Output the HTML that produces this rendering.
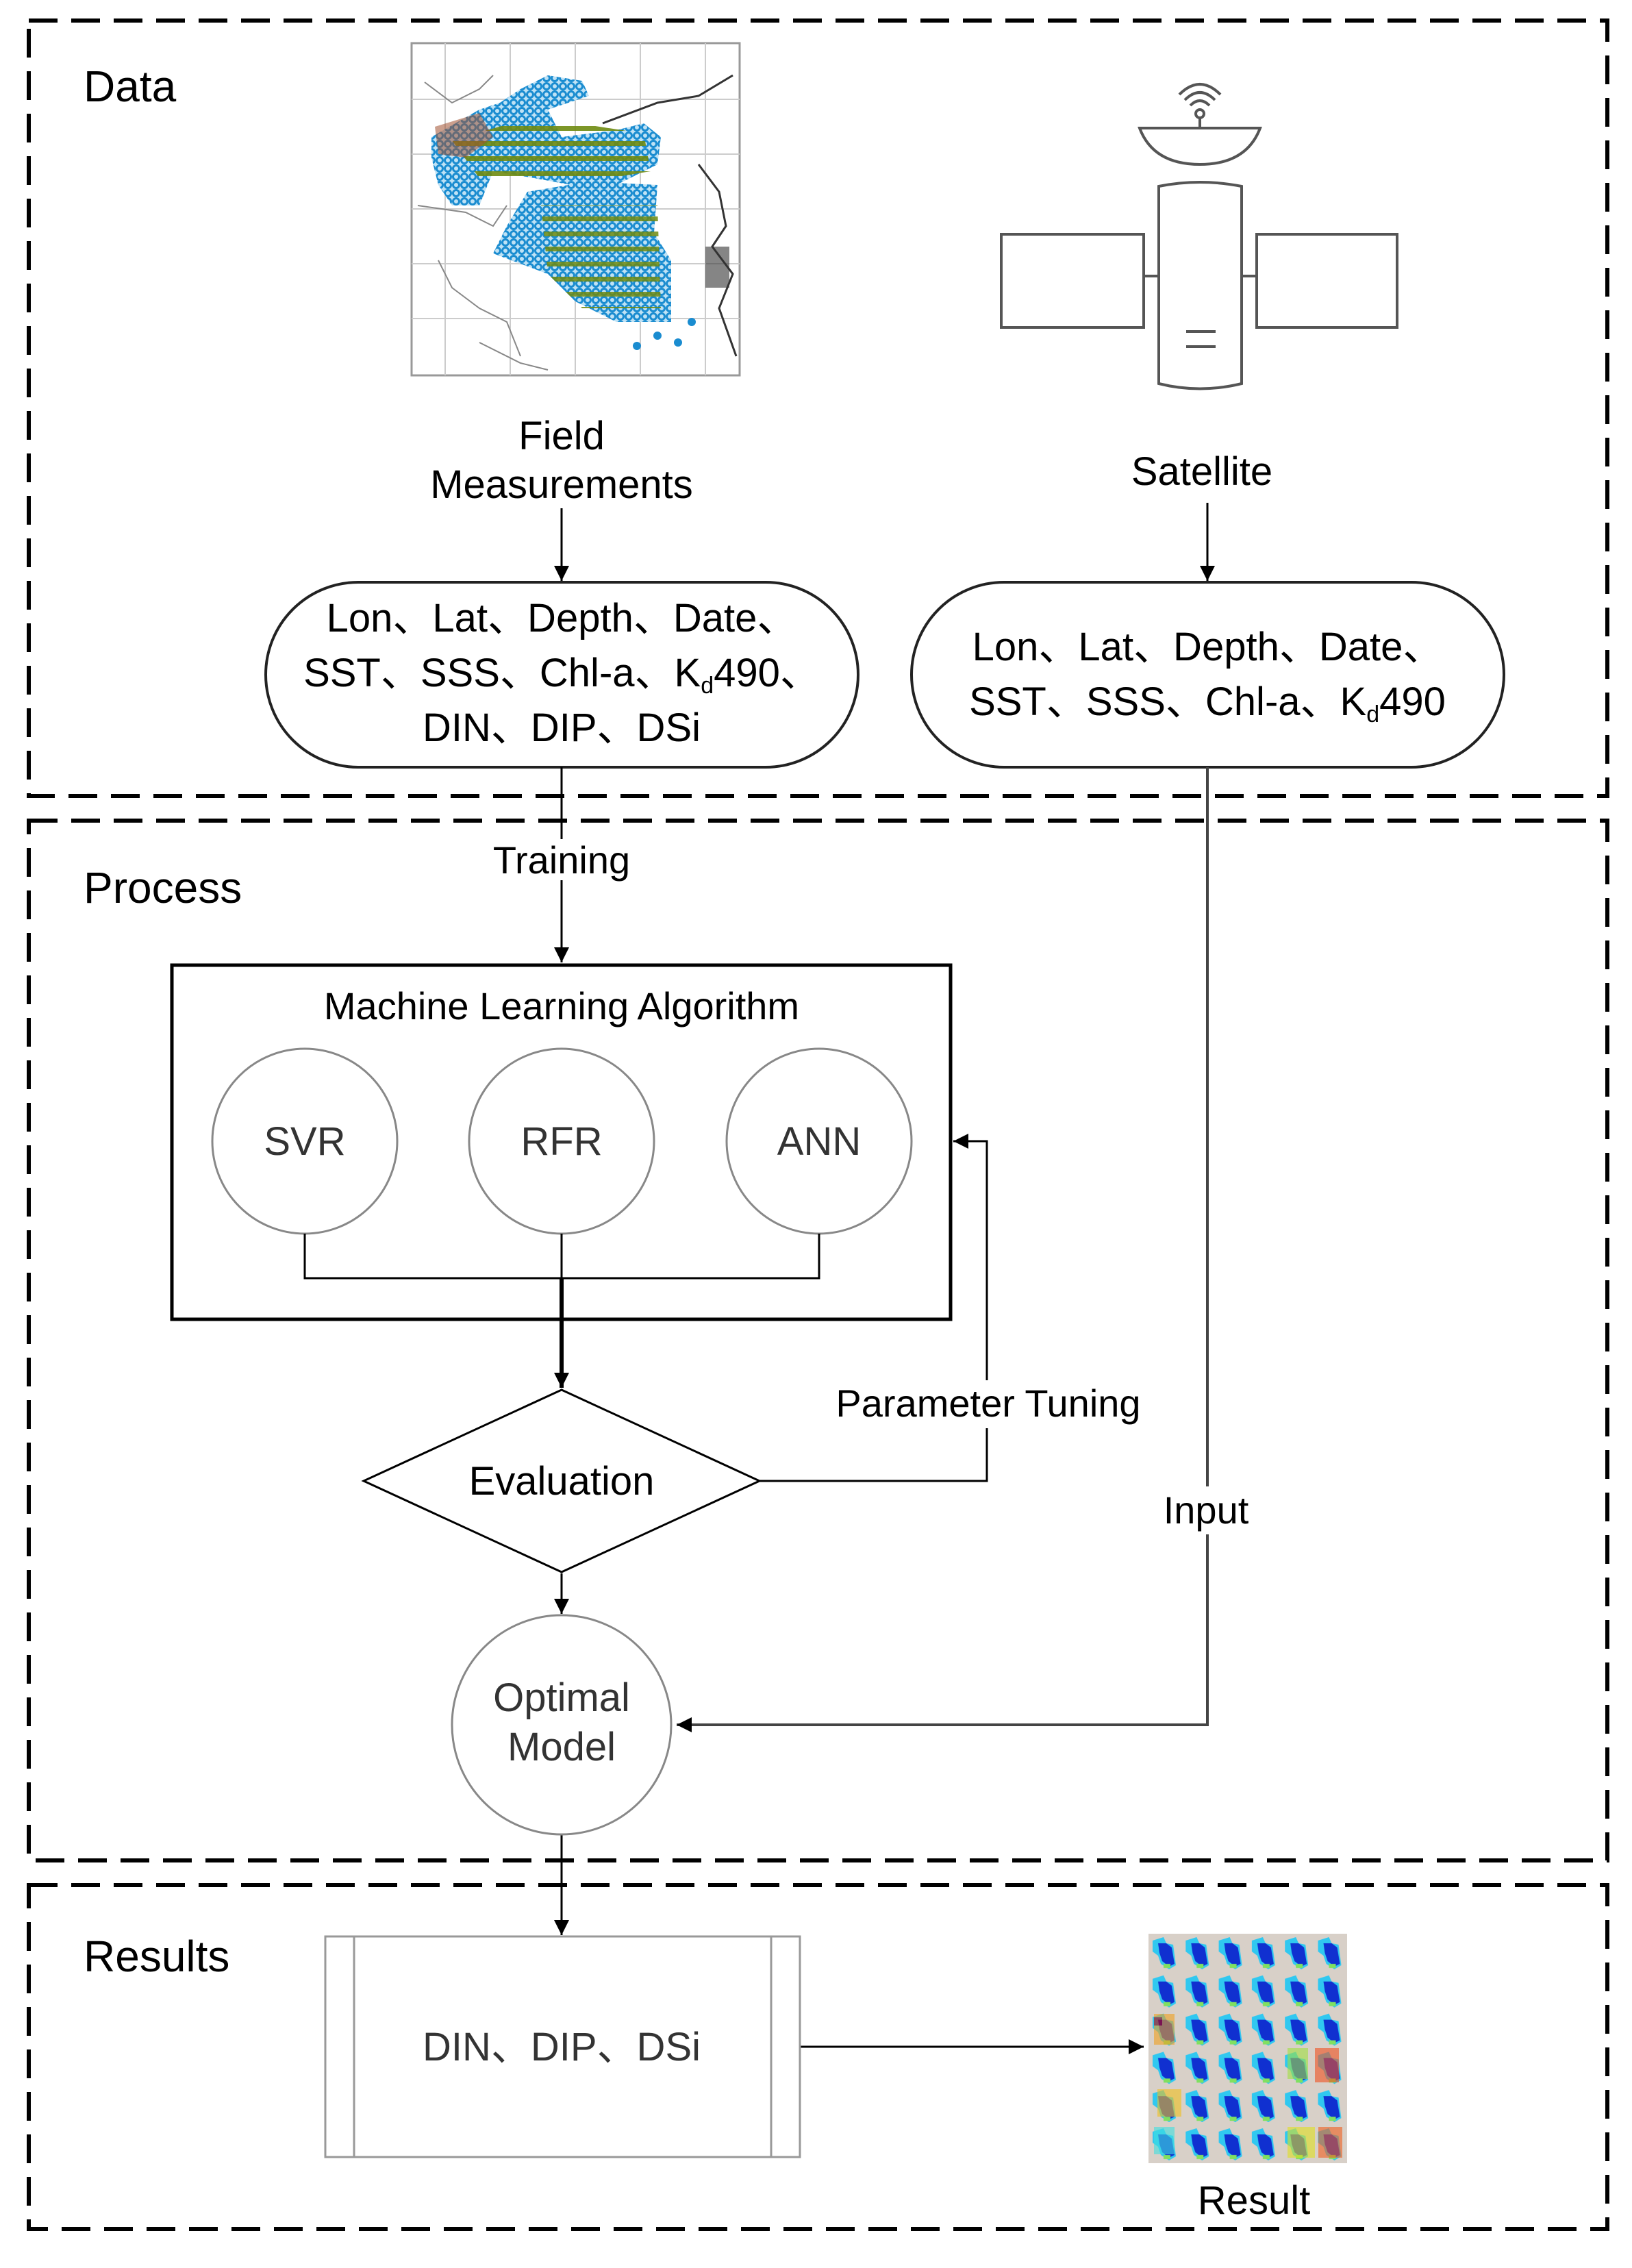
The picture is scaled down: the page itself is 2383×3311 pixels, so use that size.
<!DOCTYPE html>
<html><head><meta charset="utf-8"><style>
html,body{margin:0;padding:0;background:#fff;}
svg{display:block;}
text{font-family:"Liberation Sans",Arial,sans-serif;}
</style></head><body>
<svg width="2383" height="3311" viewBox="0 0 2383 3311" xmlns="http://www.w3.org/2000/svg">
<defs>
<marker id="a2" viewBox="0 0 10 10" refX="10" refY="5" markerWidth="22" markerHeight="22" orient="auto" markerUnits="userSpaceOnUse"><path d="M0,0 L10,5 L0,10 z" fill="#000"/></marker>
<pattern id="dots" width="12" height="12" patternUnits="userSpaceOnUse">
<rect width="12" height="12" fill="#bfe2f5"/>
<circle cx="6" cy="6" r="4.5" fill="none" stroke="#1a8cd0" stroke-width="3"/></pattern>
<pattern id="olive" width="12" height="22" patternUnits="userSpaceOnUse">
<rect x="0" y="8" width="12" height="7" fill="#6f8a10"/></pattern>
<pattern id="panel" x="1677" y="2823" width="48.3" height="55.8" patternUnits="userSpaceOnUse">
<rect width="48.3" height="55.8" fill="#d8d0c8"/>
<path d="M6,10 L22,5 L26,14 L36,16 L40,46 L30,52 L18,44 L14,32 L6,26 z" fill="#30c8f0"/>
<path d="M14,14 L26,14 L34,20 L38,44 L30,48 L20,40 L16,28 z" fill="#1030d0"/>
<rect x="22" y="44" width="10" height="6" fill="#80e060"/>
</pattern>
</defs>

<g fill="none" stroke="#000" stroke-width="6" stroke-dasharray="42 20">
<rect x="42" y="30" width="2305" height="1132"/>
<rect x="42" y="1198" width="2305" height="1518"/>
<rect x="42" y="2752" width="2305" height="502"/>
</g>

<text x="122" y="148" font-size="64">Data</text>
<text x="122" y="1318" font-size="64">Process</text>
<text x="122" y="2878" font-size="64">Results</text>

<!-- Map -->
<g>
<rect x="601" y="63" width="479" height="485" fill="#fff" stroke="#999" stroke-width="3"/>
<g stroke="#ccc" stroke-width="2">
<line x1="650" y1="63" x2="650" y2="548"/><line x1="745" y1="63" x2="745" y2="548"/>
<line x1="840" y1="63" x2="840" y2="548"/><line x1="935" y1="63" x2="935" y2="548"/>
<line x1="1030" y1="63" x2="1030" y2="548"/>
<line x1="601" y1="145" x2="1080" y2="145"/><line x1="601" y1="225" x2="1080" y2="225"/>
<line x1="601" y1="305" x2="1080" y2="305"/><line x1="601" y1="385" x2="1080" y2="385"/>
<line x1="601" y1="465" x2="1080" y2="465"/>
</g>
<path d="M620,120 L660,150 L700,130 L720,110 M610,300 L680,310 L720,330 L740,300 M640,380 L660,420 L700,450 L740,470 L760,520 M700,500 L760,530 L800,540" fill="none" stroke="#888" stroke-width="2"/>
<path d="M880,180 L960,150 L1020,140 L1070,110 M1020,240 L1050,280 L1060,330 L1040,360 L1070,400 L1050,450 L1075,520" fill="none" stroke="#333" stroke-width="3"/>
<rect x="1030" y="360" width="35" height="60" fill="#333" opacity="0.6"/>
<path d="M630,200 L700,160 L730,150 L760,130 L800,110 L850,118 L860,140 L800,160 L820,200 L900,190 L940,180 L965,200 L960,240 L900,270 L860,275 L780,260 L720,250 L700,300 L660,300 L640,270 L630,230 z" fill="url(#dots)"/>
<path d="M660,205 L780,170 L940,195 L950,250 L860,265 L700,260 z" fill="url(#olive)" opacity="0.9"/>
<path d="M635,185 L700,165 L720,200 L680,230 L640,225 z" fill="#a05030" opacity="0.55"/>
<path d="M770,280 L860,265 L960,270 L955,340 L980,380 L980,470 L900,470 L840,440 L800,400 L720,370 L740,330 z" fill="url(#dots)"/>
<path d="M790,300 L960,300 L965,450 L850,450 L800,400 z" fill="url(#olive)" opacity="0.85"/>
<g fill="#1a8cd0"><circle cx="960" cy="490" r="6"/><circle cx="990" cy="500" r="6"/><circle cx="930" cy="505" r="6"/><circle cx="1010" cy="470" r="6"/></g>
</g>

<!-- Satellite -->
<g fill="#fff" stroke="#555" stroke-width="4">
<rect x="1462" y="342" width="208" height="136"/>
<rect x="1835" y="342" width="205" height="136"/>
<line x1="1670" y1="403" x2="1692" y2="403"/><line x1="1813" y1="403" x2="1835" y2="403"/>
<path d="M1692,272 Q1752,260 1813,272 L1813,560 Q1752,575 1692,560 z"/>
<line x1="1732" y1="484" x2="1775" y2="484"/><line x1="1732" y1="506" x2="1775" y2="506"/>
<path d="M1664,187 L1840,187 Q1820,240 1752,240 Q1684,240 1664,187 z"/>
<line x1="1752" y1="187" x2="1752" y2="172"/>
<circle cx="1752" cy="166" r="6"/>
<path d="M1738,154 Q1752,140 1766,154 M1730,146 Q1752,124 1774,146 M1722,138 Q1752,108 1782,138" fill="none"/>
</g>

<text x="820" y="656" font-size="58" text-anchor="middle">Field</text>
<text x="820" y="727" font-size="58" text-anchor="middle">Measurements</text>
<text x="1755" y="708" font-size="58" text-anchor="middle">Satellite</text>

<g stroke="#000" stroke-width="3" fill="none">
<line x1="820" y1="742" x2="820" y2="848" marker-end="url(#a2)"/>
<line x1="1763" y1="734" x2="1763" y2="848" marker-end="url(#a2)"/>
</g>

<rect x="388" y="850" width="865" height="270" rx="135" fill="#fff" stroke="#222" stroke-width="4"/>
<rect x="1331" y="850" width="865" height="270" rx="135" fill="#fff" stroke="#222" stroke-width="4"/>
<g font-size="58" text-anchor="middle" font-family="Liberation Sans, Noto Sans CJK SC, sans-serif">
<text x="820" y="922">Lon、Lat、Depth、Date、</text>
<text x="820" y="1002">SST、SSS、Chl-a、K<tspan font-size="34" dy="10">d</tspan><tspan dy="-10">490、</tspan></text>
<text x="820" y="1082">DIN、DIP、DSi</text>
<text x="1763" y="964">Lon、Lat、Depth、Date、</text>
<text x="1763" y="1044">SST、SSS、Chl-a、K<tspan font-size="34" dy="10">d</tspan><tspan dy="-10">490</tspan></text>
</g>

<g stroke="#000" stroke-width="3" fill="none">
<line x1="820" y1="1120" x2="820" y2="1405" marker-end="url(#a2)"/>
<polyline points="1763,1120 1763,2518 988,2518" stroke="#444" stroke-width="4" marker-end="url(#a2)"/>
<polyline points="1109,2162 1441,2162 1441,1666 1392,1666" marker-end="url(#a2)"/>
<line x1="820" y1="2297" x2="820" y2="2356" marker-end="url(#a2)"/>
<line x1="820" y1="2679" x2="820" y2="2825" marker-end="url(#a2)"/>
<line x1="1168" y1="2988" x2="1670" y2="2988" marker-end="url(#a2)"/>
</g>
<rect x="700" y="1225" width="240" height="60" fill="#fff"/>
<text x="820" y="1275" font-size="56" text-anchor="middle">Training</text>

<rect x="251" y="1409" width="1137" height="517" fill="none" stroke="#000" stroke-width="5"/>
<text x="820" y="1488" font-size="56" text-anchor="middle">Machine Learning Algorithm</text>
<g fill="#fff" stroke="#888" stroke-width="3">
<circle cx="445" cy="1666" r="135"/><circle cx="820" cy="1666" r="135"/><circle cx="1196" cy="1666" r="135"/>
</g>
<g font-size="58" text-anchor="middle" fill="#333">
<text x="445" y="1686">SVR</text><text x="820" y="1686">RFR</text><text x="1196" y="1686">ANN</text>
</g>
<polyline points="445,1801 445,1866 1196,1866 1196,1801" fill="none" stroke="#000" stroke-width="3"/>
<line x1="820" y1="1801" x2="820" y2="1866" stroke="#000" stroke-width="3"/>
<line x1="820" y1="1866" x2="820" y2="2026" stroke="#000" stroke-width="6" marker-end="url(#a2)"/>

<polygon points="820,2029 1109,2162 820,2295 531,2162" fill="#fff" stroke="#000" stroke-width="3"/>
<text x="820" y="2182" font-size="58" text-anchor="middle">Evaluation</text>
<rect x="1195" y="2015" width="490" height="70" fill="#fff"/>
<text x="1443" y="2068" font-size="56" text-anchor="middle">Parameter Tuning</text>
<rect x="1690" y="2170" width="146" height="70" fill="#fff"/>
<text x="1761" y="2224" font-size="56" text-anchor="middle">Input</text>

<circle cx="820" cy="2518" r="160" fill="#fff" stroke="#888" stroke-width="3"/>
<text x="820" y="2498" font-size="58" text-anchor="middle" fill="#333">Optimal</text>
<text x="820" y="2570" font-size="58" text-anchor="middle" fill="#333">Model</text>

<rect x="475" y="2827" width="693" height="322" fill="#fff" stroke="#999" stroke-width="3"/>
<line x1="517" y1="2827" x2="517" y2="3149" stroke="#999" stroke-width="3"/>
<line x1="1126" y1="2827" x2="1126" y2="3149" stroke="#999" stroke-width="3"/>
<text x="820" y="3008" font-size="58" text-anchor="middle" fill="#333" font-family="Liberation Sans, Noto Sans CJK SC, sans-serif">DIN、DIP、DSi</text>

<rect x="1677" y="2823" width="290" height="335" fill="url(#panel)"/>
<g opacity="0.6">
<rect x="1685" y="2940" width="30" height="45" fill="#f0a020"/>
<rect x="1685" y="2945" width="12" height="12" fill="#c00000"/>
<rect x="1690" y="3050" width="35" height="40" fill="#f0c020"/>
<rect x="1920" y="2990" width="35" height="50" fill="#f05020"/>
<rect x="1880" y="3105" width="40" height="45" fill="#e0e020"/>
<rect x="1925" y="3105" width="35" height="45" fill="#f06020"/>
<rect x="1880" y="2990" width="30" height="45" fill="#a0e040"/>
<rect x="1685" y="3105" width="30" height="40" fill="#40e0e0"/>
</g>
<text x="1831" y="3232" font-size="58" text-anchor="middle">Result</text>
</svg>
</body></html>
